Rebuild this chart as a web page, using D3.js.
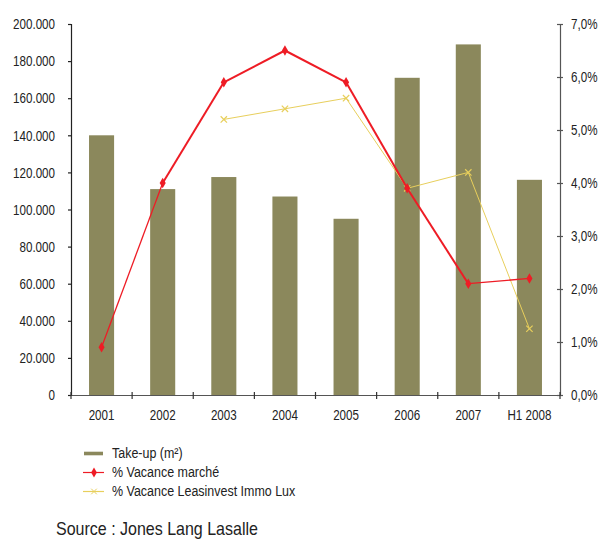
<!DOCTYPE html>
<html>
<head>
<meta charset="utf-8">
<script src="https://cdn.jsdelivr.net/npm/d3@7"></script>
<style>
  html, body { margin: 0; padding: 0; background: #fff; }
  svg { display: block; font-family: "Liberation Sans", Arial, sans-serif; }
  svg text { transform-box: fill-box; }
</style>
</head>
<body>
<svg id="chart" width="599" height="539"></svg>
<script>
// Office take-up and vacancy rates, Luxembourg
const categories = ["2001", "2002", "2003", "2004", "2005", "2006", "2007", "H1 2008"];
const takeUp = [140000, 111000, 117500, 107000, 95000, 171000, 189000, 116000];
const vacancyMarket = [0.9, 4.0, 5.9, 6.5, 5.9, 3.9, 2.1, 2.2];
const vacancyLeasinvest = [null, null, 5.2, 5.4, 5.6, 3.9, 4.2, 1.25];
const leftTicks = [0, 20000, 40000, 60000, 80000, 100000, 120000, 140000, 160000, 180000, 200000];
const rightTicks = [0, 1, 2, 3, 4, 5, 6, 7];
const legendLabels = ["Take-up (m\u00B2)", "% Vacance march\u00E9", "% Vacance Leasinvest Immo Lux"];
const sourceText = "Source : Jones Lang Lasalle";

const svg = d3.select("#chart");
const plotLeft = 71, plotRight = 560, plotTop = 24, plotBottom = 395;

const x = d3.scaleBand().domain(categories).range([plotLeft, plotRight]).paddingInner(0.59).paddingOuter(0.295);
const xc = d3.scalePoint().domain(categories).range([plotLeft, plotRight]).padding(0.5);
const yL = d3.scaleLinear().domain([0, 200000]).range([plotBottom, plotTop]);
const yR = d3.scaleLinear().domain([0, 7]).range([plotBottom, plotTop]);

const fmtThousands = d => d === 0 ? "0" : d3.format(",")(d).replace(/,/g, ".");
const fmtPct = d => d.toFixed(1).replace(".", ",") + "%";

const barColor = "#8b885c";
const redColor = "#ee1c25";
const yellowColor = "#e8cf5c";
const textColor = "#222";

// narrow the typeface horizontally, anchored on the text's own anchor side
function condense(sel, sx, origin) {
  sel.style("transform-origin", origin).style("transform", `scaleX(${sx})`);
}

// bars
svg.append("g").selectAll("rect").data(takeUp).join("rect")
  .attr("x", (d, i) => x(categories[i]))
  .attr("width", x.bandwidth())
  .attr("y", d => yL(d))
  .attr("height", d => plotBottom - yL(d))
  .attr("fill", barColor);

// left axis
const gL = svg.append("g").attr("transform", `translate(${plotLeft},0)`)
  .call(d3.axisLeft(yL).tickValues(leftTicks).tickFormat(fmtThousands).tickSize(3).tickPadding(13));
gL.attr("font-family", null).attr("font-size", null);
gL.select(".domain").attr("stroke", "#222").attr("stroke-width", 1.2);
gL.selectAll(".tick line").attr("stroke", "#222").attr("stroke-width", 1.2);
gL.selectAll("text").attr("fill", textColor).style("font-size", "14px").attr("dy", "0.34em")
  .call(condense, 0.83, "right center");

// right axis
const gR = svg.append("g").attr("transform", `translate(${plotRight},0)`)
  .call(d3.axisRight(yR).tickValues(rightTicks).tickFormat(fmtPct).tickSizeInner(3).tickSizeOuter(0).tickPadding(8));
gR.attr("font-family", null).attr("font-size", null);
gR.select(".domain").attr("stroke", "#555").attr("stroke-width", 1.2);
gR.selectAll(".tick line").attr("stroke", "#555").attr("stroke-width", 1.2).attr("x1", -3);
gR.selectAll("text").attr("fill", textColor).style("font-size", "14px").attr("dy", "0.34em")
  .call(condense, 0.83, "left center");

// bottom axis
const gB = svg.append("g").attr("transform", `translate(0,${plotBottom})`)
  .call(d3.axisBottom(x).tickSize(0).tickPadding(0));
gB.attr("font-family", null).attr("font-size", null);
gB.select(".domain").attr("stroke", "#555").attr("stroke-width", 1.2);
gB.selectAll("text").attr("fill", textColor).style("font-size", "14px")
  .attr("y", 25).attr("dy", null)
  .call(condense, 0.83, "center center");
// category boundary ticks
const bounds = d3.range(categories.length + 1).map(i => plotLeft + i * (plotRight - plotLeft) / categories.length);
svg.append("g").selectAll("line").data(bounds).join("line")
  .attr("x1", d => d).attr("x2", d => d)
  .attr("y1", plotBottom - 3).attr("y2", plotBottom + 4)
  .attr("stroke", "#333").attr("stroke-width", 1.2);

// Leasinvest vacancy line
const yellowPts = vacancyLeasinvest.map((v, i) => ({ c: categories[i], v })).filter(d => d.v !== null);
svg.append("path").datum(yellowPts)
  .attr("fill", "none").attr("stroke", yellowColor).attr("stroke-width", 1)
  .attr("d", d3.line().x(d => xc(d.c)).y(d => yR(d.v)));
svg.append("g").selectAll("path").data(yellowPts).join("path")
  .attr("transform", d => `translate(${xc(d.c)},${yR(d.v)})`)
  .attr("d", d3.symbol().type(d3.symbolX).size(28))
  .attr("fill", "none").attr("stroke", yellowColor).attr("stroke-width", 1.2);

// market vacancy line, drawn segment by segment
const redPts = vacancyMarket.map((v, i) => ({ c: categories[i], v }));
svg.append("g").selectAll("line").data(d3.pairs(redPts)).join("line")
  .attr("x1", d => xc(d[0].c)).attr("y1", d => yR(d[0].v))
  .attr("x2", d => xc(d[1].c)).attr("y2", d => yR(d[1].v))
  .attr("stroke", redColor)
  .attr("stroke-width", (d, i, arr) => (i === 0 || i === arr.length - 1) ? 1.3 : 2);
svg.append("g").selectAll("path").data(redPts).join("path")
  .attr("transform", d => `translate(${xc(d.c)},${yR(d.v)})`)
  .attr("d", d3.symbol().type(d3.symbolDiamond).size(32))
  .attr("fill", redColor);

// legend
const lg = svg.append("g");
const lx = 84, ly = 453.5, lstep = 19;
lg.append("rect").attr("x", lx).attr("y", ly - 1.8).attr("width", 19).attr("height", 3.6).attr("fill", barColor);
lg.append("line").attr("x1", lx - 1).attr("x2", lx + 20).attr("y1", ly + lstep).attr("y2", ly + lstep)
  .attr("stroke", redColor).attr("stroke-width", 1.2);
lg.append("path").attr("transform", `translate(${lx + 10},${ly + lstep})`)
  .attr("d", d3.symbol().type(d3.symbolDiamond).size(28)).attr("fill", redColor);
lg.append("line").attr("x1", lx - 1).attr("x2", lx + 20).attr("y1", ly + 2 * lstep).attr("y2", ly + 2 * lstep)
  .attr("stroke", yellowColor).attr("stroke-width", 1.2);
lg.append("path").attr("transform", `translate(${lx + 10},${ly + 2 * lstep})`)
  .attr("d", d3.symbol().type(d3.symbolX).size(22)).attr("fill", "none").attr("stroke", yellowColor);
lg.selectAll("text").data(legendLabels).join("text")
  .attr("x", lx + 28).attr("y", (d, i) => ly + i * lstep)
  .attr("dy", "0.33em").attr("fill", textColor).style("font-size", "14px")
  .text(d => d)
  .call(condense, 0.89, "left center");

// source line
svg.append("text").attr("x", 56).attr("y", 535).attr("fill", "#222")
  .style("font-size", "18px").text(sourceText)
  .call(condense, 0.89, "left center");
</script>
</body>
</html>
